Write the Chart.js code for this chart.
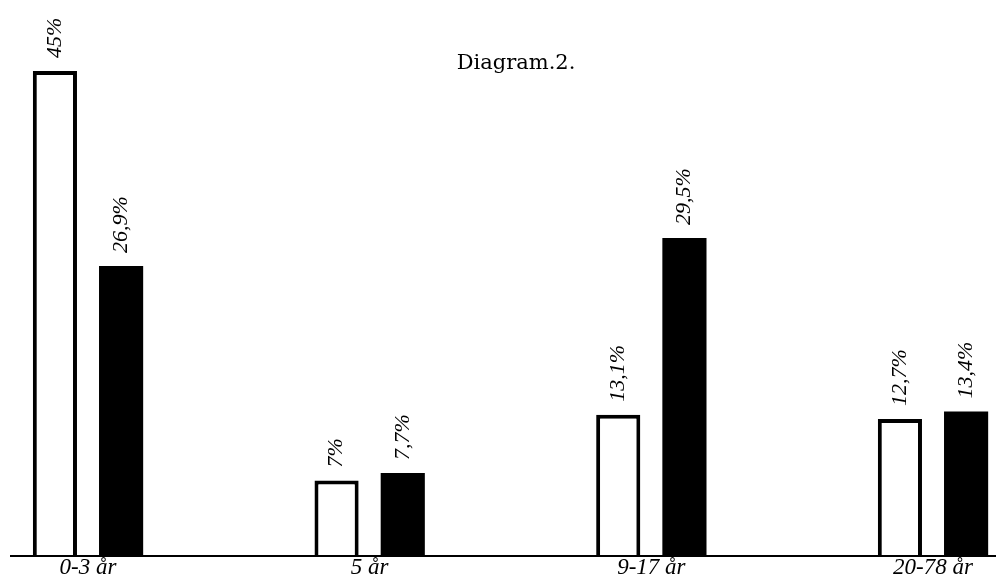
<!DOCTYPE html>
<html lang="sv">
<head>
    <meta charset="UTF-8">
    <title>Diagram 2</title>
    <script src="https://cdn.jsdelivr.net/npm/chart.js"></script>
    <style>
        body {
            margin: 0;
            background-color: #ffffff;
        }
        .container {
            width: 996px;
            height: 583px;
            position: relative;
        }
    </style>
</head>
<body>
    <div class="container">
        <canvas id="diagramChart"></canvas>
    </div>

    <script>
        // Data
        const ageGroups = ['0-3 år', '5 år', '9-17 år', '20-78 år'];
        const whiteValues = [45, 7, 13.1, 12.7];
        const blackValues = [26.9, 7.7, 29.5, 13.4];
        const titleText = 'Diagram.2.';

        // 26.9 -> "26,9%"
        function formatPct(v) {
            return String(v).replace('.', ',') + '%';
        }

        // Baseline, rotated value labels and the title
        const diagramExtras = {
            id: 'diagramExtras',
            afterDatasetsDraw(chart) {
                const ctx = chart.ctx;
                const y0 = chart.scales.y.getPixelForValue(0);
                ctx.save();

                ctx.strokeStyle = '#000';
                ctx.lineWidth = 2;
                ctx.beginPath();
                ctx.moveTo(10, y0);
                ctx.lineTo(chart.width, y0);
                ctx.stroke();

                ctx.fillStyle = '#000';
                ctx.font = 'italic 22px "Liberation Serif"';
                chart.data.datasets.forEach((ds, i) => {
                    chart.getDatasetMeta(i).data.forEach((bar, j) => {
                        ctx.save();
                        ctx.translate(bar.x, bar.y - 13);
                        ctx.rotate(-Math.PI / 2);
                        ctx.textAlign = 'left';
                        ctx.textBaseline = 'middle';
                        ctx.fillText(formatPct(ds.data[j]), 0, 0);
                        ctx.restore();
                    });
                });

                ctx.font = '21px "DejaVu Serif"';
                ctx.textAlign = 'center';
                ctx.textBaseline = 'alphabetic';
                ctx.fillText(titleText, 516, 69);

                ctx.restore();
            }
        };

        const ctx = document.getElementById('diagramChart').getContext('2d');
        new Chart(ctx, {
            type: 'bar',
            data: {
                labels: ageGroups,
                datasets: [{
                    data: whiteValues,
                    backgroundColor: '#ffffff',
                    borderColor: '#000000',
                    borderWidth: 4,
                    borderSkipped: 'start',
                    categoryPercentage: 0.47,
                    barPercentage: 0.667,
                    clip: false
                }, {
                    data: blackValues,
                    backgroundColor: '#000000',
                    borderWidth: 0,
                    categoryPercentage: 0.47,
                    barPercentage: 0.667,
                    clip: false
                }]
            },
            options: {
                responsive: true,
                maintainAspectRatio: false,
                animation: false,
                layout: {
                    padding: { left: 88, right: 63, top: 17, bottom: 4 }
                },
                plugins: {
                    legend: { display: false },
                    tooltip: { enabled: false }
                },
                scales: {
                    x: {
                        offset: false,
                        grid: { display: false, drawTicks: false },
                        border: { display: false },
                        ticks: {
                            color: '#000',
                            padding: 0,
                            maxRotation: 0,
                            autoSkip: false,
                            font: { family: 'Liberation Serif', style: 'italic', size: 23, lineHeight: 1 }
                        }
                    },
                    y: {
                        display: false,
                        min: 0,
                        max: 50
                    }
                }
            },
            plugins: [diagramExtras]
        });
    </script>
</body>
</html>
